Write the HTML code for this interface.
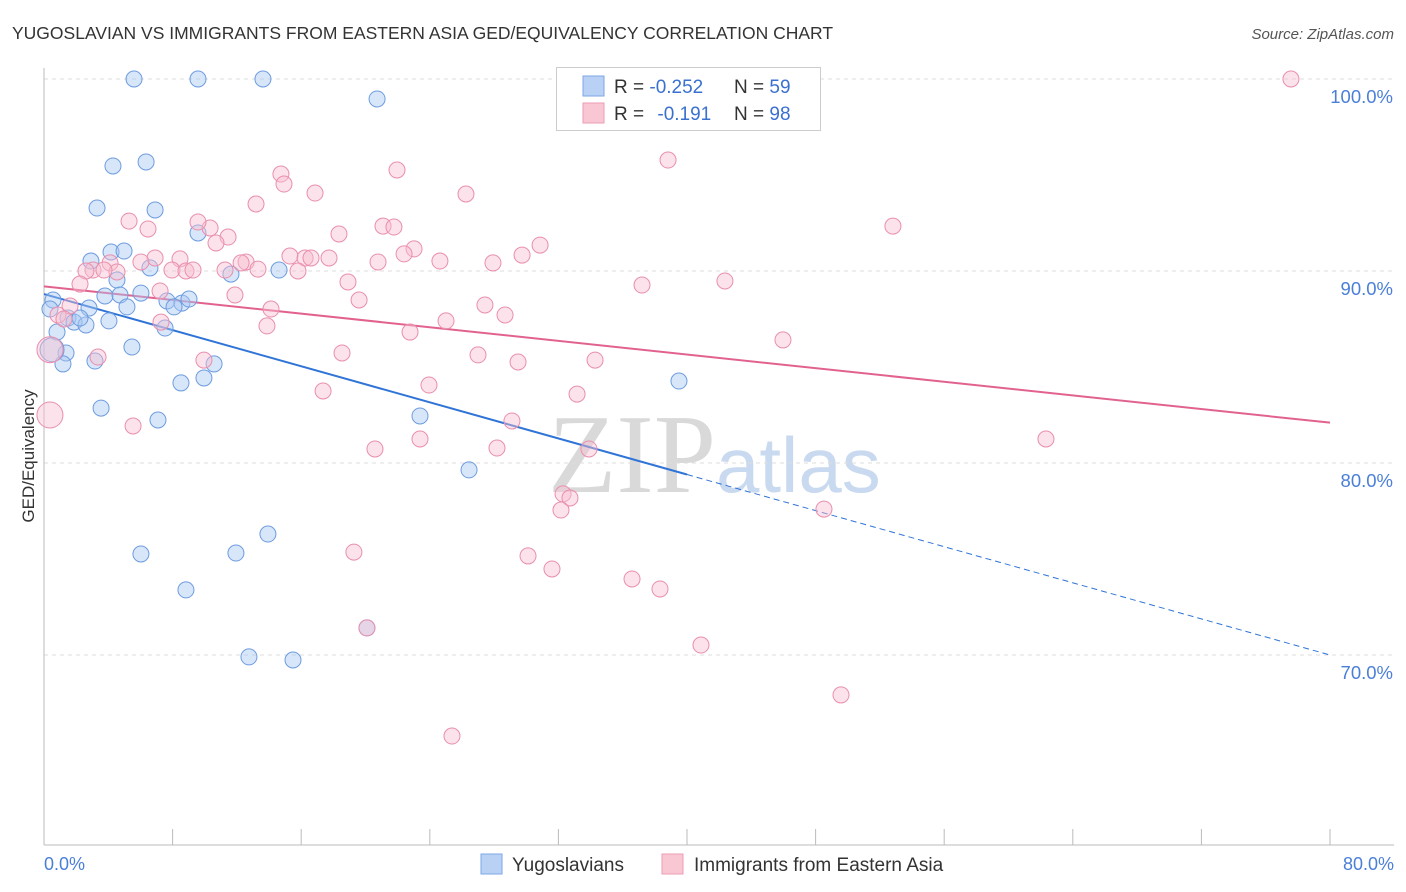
<!DOCTYPE html>
<html><head><meta charset="utf-8"><style>
body{margin:0;background:#fff;font-family:"Liberation Sans",sans-serif;}
svg{display:block}
</style></head><body>
<svg id="chart" width="1406" height="892" xmlns="http://www.w3.org/2000/svg">
<text x="12" y="39" font-size="17.5" fill="#333">YUGOSLAVIAN VS IMMIGRANTS FROM EASTERN ASIA GED/EQUIVALENCY CORRELATION CHART</text>
<text x="1394" y="39" font-size="15" fill="#555" font-style="italic" text-anchor="end">Source: ZipAtlas.com</text>
<text x="716" y="492" font-size="112" fill="#d9d9d9" font-family="Liberation Serif,serif" text-anchor="end">ZIP</text>
<text x="716" y="492" font-size="78" fill="#c9daf0" text-anchor="start">atlas</text>
<text transform="translate(34,456) rotate(-90)" font-size="17" fill="#333" text-anchor="middle">GED/Equivalency</text>
<g id="grid"></g><g id="axes"></g><g id="lines"></g><g id="pts"></g>
<g>
<rect x="556.5" y="67.5" width="264" height="63" fill="#fff" stroke="#ccc"/>
<rect x="583" y="76" width="21" height="20" fill="#b8d1f5" stroke="#7ea7e3"/>
<rect x="583" y="103" width="21" height="20" fill="#f9c6d4" stroke="#eb9db5"/>
<text x="614" y="93" font-size="19" fill="#333">R = <tspan fill="#3a70d0">-0.252</tspan></text>
<text x="734" y="93" font-size="19" fill="#333">N = <tspan fill="#3a70d0">59</tspan></text>
<text x="614" y="120" font-size="19" fill="#333">R = <tspan fill="#3a70d0" dx="8">-0.191</tspan></text>
<text x="734" y="120" font-size="19" fill="#333">N = <tspan fill="#3a70d0">98</tspan></text>
</g>
<g>
<rect x="481" y="854" width="21" height="20" fill="#b8d1f5" stroke="#7ea7e3"/>
<text x="512" y="871" font-size="19" fill="#333">Yugoslavians</text>
<rect x="662" y="854" width="21" height="20" fill="#f9c6d4" stroke="#eb9db5"/>
<text x="694" y="871" font-size="19" fill="#333">Immigrants from Eastern Asia</text>
</g>
</svg>
<script>
const blue=[[5.6,100],[9.58,100],[13.62,100],[20.72,98.96],[4.29,95.47],[6.35,95.68],[3.3,93.28],[6.91,93.18],[9.58,91.98],[4.17,90.99],[4.98,91.04],[2.92,90.52],[6.59,90.16],[11.63,89.84],[14.62,90.05],[4.54,89.53],[3.79,88.7],[6.03,88.85],[4.73,88.75],[5.16,88.13],[7.65,88.44],[8.58,88.33],[9.02,88.54],[8.09,88.13],[0.56,88.49],[0.37,88.02],[2.8,88.07],[1.49,87.55],[1.87,87.34],[2.61,87.19],[2.24,87.55],[4.04,87.4],[7.53,87.03],[0.81,86.82],[5.47,86.04],[1.37,85.73],[3.17,85.31],[1.18,85.16],[10.58,85.16],[8.52,84.17],[9.95,84.43],[3.55,82.86],[7.09,82.24],[23.39,82.45],[26.44,79.64],[39.5,84.27],[6.03,75.26],[11.94,75.31],[13.93,76.3],[8.83,73.39],[20.09,71.41],[12.75,69.9],[15.49,69.74]];
const pink=[[77.57,100],[38.82,95.78],[21.96,95.26],[14.74,95.05],[14.93,94.53],[16.86,94.06],[26.25,94.01],[13.19,93.49],[5.29,92.6],[6.47,92.19],[10.33,92.24],[9.58,92.55],[11.45,91.77],[10.7,91.46],[18.35,91.93],[21.09,92.34],[21.77,92.29],[52.81,92.34],[30.86,91.35],[23.02,91.15],[22.4,90.89],[20.78,90.47],[24.63,90.52],[27.93,90.42],[29.74,90.83],[15.3,90.78],[16.24,90.68],[16.61,90.68],[17.73,90.68],[12.57,90.47],[12.26,90.42],[8.46,90.63],[6.91,90.68],[6.03,90.47],[4.11,90.42],[4.54,89.95],[3.05,90.05],[2.61,90.0],[3.73,90.05],[7.96,90.05],[8.83,90.0],[9.27,90.05],[11.26,90.05],[13.31,90.1],[15.8,90.0],[18.91,89.43],[42.36,89.48],[37.2,89.27],[2.24,89.32],[7.22,88.96],[11.88,88.75],[19.6,88.49],[27.43,88.23],[28.68,87.71],[14.12,88.02],[1.62,88.18],[0.87,87.71],[1.24,87.5],[7.28,87.34],[25.01,87.4],[22.77,86.82],[13.87,87.14],[45.97,86.41],[18.54,85.73],[27.0,85.63],[29.49,85.26],[34.28,85.36],[9.95,85.36],[3.36,85.52],[17.36,83.75],[23.95,84.06],[33.16,83.59],[29.11,82.19],[5.54,81.93],[23.39,81.25],[20.59,80.73],[28.18,80.78],[33.9,80.73],[62.33,81.25],[32.29,78.39],[32.72,78.18],[32.16,77.55],[48.52,77.6],[19.28,75.36],[30.11,75.16],[31.6,74.48],[36.58,73.96],[38.32,73.44],[20.09,71.41],[40.87,70.52],[49.58,67.92],[25.38,65.78]];
const blueBig=[[0.5,85.9]];
const pinkBig=[[0.37,82.5],[0.37,85.9]];
const blueTrend=[[0,88.8],[40,79.4],[80,70.0]];
const pinkTrend=[[0,89.2],[80,82.1]];
const yTicks=[100,90,80,70];
const xTicks=[0,8,16,24,32,40,48,56,64,72,80];
const NS='http://www.w3.org/2000/svg';
const X=v=>44+v*1286/80, Y=v=>79+(100-v)*19.2;
function mk(p,t,a){const e=document.createElementNS(NS,t);for(const k in a)e.setAttribute(k,a[k]);document.getElementById(p).appendChild(e);return e;}
yTicks.forEach(v=>{
 const l=mk('grid','line',{x1:44,x2:1394,y1:Y(v),y2:Y(v),stroke:'#ddd','stroke-dasharray':'4,4'});
 
 
 const t=mk('axes','text',{x:1393,y:Y(v)+24,'font-size':18.5,fill:'#4a7fd8','text-anchor':'end'});t.textContent=v.toFixed(1)+'%';
 
 
});
mk('axes','line',{x1:44,x2:44,y1:68,y2:845,stroke:'#bbb'});
mk('axes','line',{x1:44,x2:1394,y1:845,y2:845,stroke:'#bbb'});
xTicks.forEach(v=>{const l=mk('axes','line',{x1:X(v),x2:X(v),y1:829,y2:845,stroke:'#bbb'});
 
 });
[[0,'start',44],[80,'end',1394]].forEach(([v,a,x])=>{const t=mk('axes','text',{x:x,y:870,'font-size':18,fill:'#4a7fd8','text-anchor':a});t.textContent=v.toFixed(1)+'%';
 
 });
function pt(d,fill,stroke,r){const c=mk('pts','circle',{cx:X(d[0]),cy:Y(d[1]),r:r,fill:fill,stroke:stroke,'fill-opacity':0.45,'stroke-width':1});return c;}
blue.concat(blueBig).forEach((d,i)=>{const c=pt(d,'#a9c7f2','#6d9ce0',i>=blue.length?12:8);
 
 });
pink.concat(pinkBig).forEach((d,i)=>{const c=pt(d,'#f8bfd0','#e98fad',i>=pink.length?13:8);
 
 });
const b1=mk('lines','line',{x1:X(blueTrend[0][0]),y1:Y(blueTrend[0][1]),x2:X(blueTrend[1][0]),y2:Y(blueTrend[1][1]),stroke:'#2f74d6','stroke-width':2});


const b2=mk('lines','line',{x1:X(blueTrend[1][0]),y1:Y(blueTrend[1][1]),x2:X(blueTrend[2][0]),y2:Y(blueTrend[2][1]),stroke:'#2f74d6','stroke-width':1,'stroke-dasharray':'6,4'});


const p1=mk('lines','line',{x1:X(pinkTrend[0][0]),y1:Y(pinkTrend[0][1]),x2:X(pinkTrend[1][0]),y2:Y(pinkTrend[1][1]),stroke:'#e2628f','stroke-width':2});


</script>
</body></html>
